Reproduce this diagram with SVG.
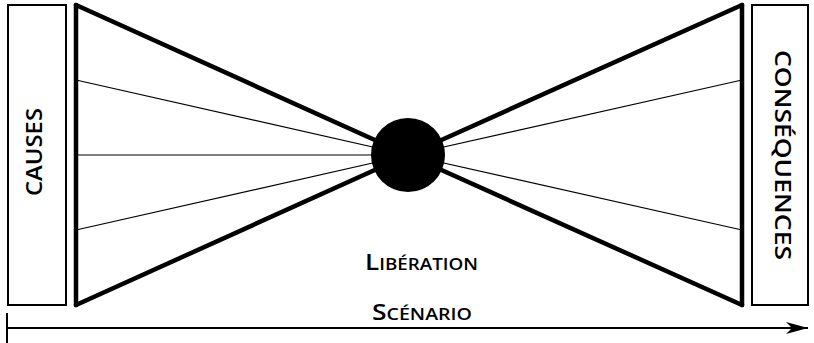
<svg xmlns="http://www.w3.org/2000/svg" width="814" height="343" viewBox="0 0 814 343">
<defs>
<style>
.box{fill:#fff;stroke:#000;stroke-width:2}
.thick{stroke:#000;stroke-width:4.5;stroke-linecap:round;fill:none}
.thin{stroke:#000;stroke-width:1.2;fill:none}
.lbl{font-family:"Open Sans","DejaVu Sans",sans-serif;font-weight:600;fill:#000}
</style>
<marker id="arr" markerWidth="24" markerHeight="14" refX="22" refY="6" orient="auto" markerUnits="userSpaceOnUse">
<path d="M0,0 L22,6 L0,12 L6,6 Z" fill="#000"/>
</marker>
</defs>
<g id="causes">
<rect class="box" x="8" y="5" width="58" height="300"/>
<text class="lbl" font-size="22" text-anchor="middle" textLength="88" lengthAdjust="spacingAndGlyphs" transform="translate(42,152) rotate(-90)">CAUSES</text>
</g>
<g id="consequences">
<rect class="box" x="752" y="5" width="56" height="300"/>
<text class="lbl" font-size="22" text-anchor="middle" textLength="210" lengthAdjust="spacingAndGlyphs" transform="translate(775,155) rotate(90)">CONSÉQUENCES</text>
</g>
<g id="connectors">
<line class="thick" x1="76" y1="5" x2="76" y2="305"/>
<line class="thick" x1="76" y1="5" x2="408" y2="155"/>
<line class="thick" x1="76" y1="305" x2="408" y2="155"/>
<line class="thin" x1="76" y1="80" x2="408" y2="155"/>
<line class="thin" x1="76" y1="155" x2="408" y2="155"/>
<line class="thin" x1="76" y1="230" x2="408" y2="155"/>
<line class="thick" x1="742" y1="5" x2="742" y2="305"/>
<line class="thick" x1="742" y1="5" x2="408" y2="155"/>
<line class="thick" x1="742" y1="305" x2="408" y2="155"/>
<line class="thin" x1="742" y1="80" x2="408" y2="155"/>
<line class="thin" x1="742" y1="230" x2="408" y2="155"/>
<line x1="8" y1="328" x2="808" y2="328" stroke="#000" stroke-width="2" marker-end="url(#arr)"/>
<line x1="7" y1="313" x2="7" y2="343" stroke="#000" stroke-width="2"/>
</g>
<g id="liberation">
<circle cx="408" cy="155" r="37" fill="#000"/>
<text class="lbl" x="365" y="270" textLength="113" lengthAdjust="spacingAndGlyphs"><tspan font-size="21.5">L</tspan><tspan font-size="15.5">IBÉRATION</tspan></text>
</g>
<g id="scenario">
<text class="lbl" x="372" y="320" textLength="100" lengthAdjust="spacingAndGlyphs"><tspan font-size="21">S</tspan><tspan font-size="15.5">CÉNARIO</tspan></text>
</g>
</svg>
